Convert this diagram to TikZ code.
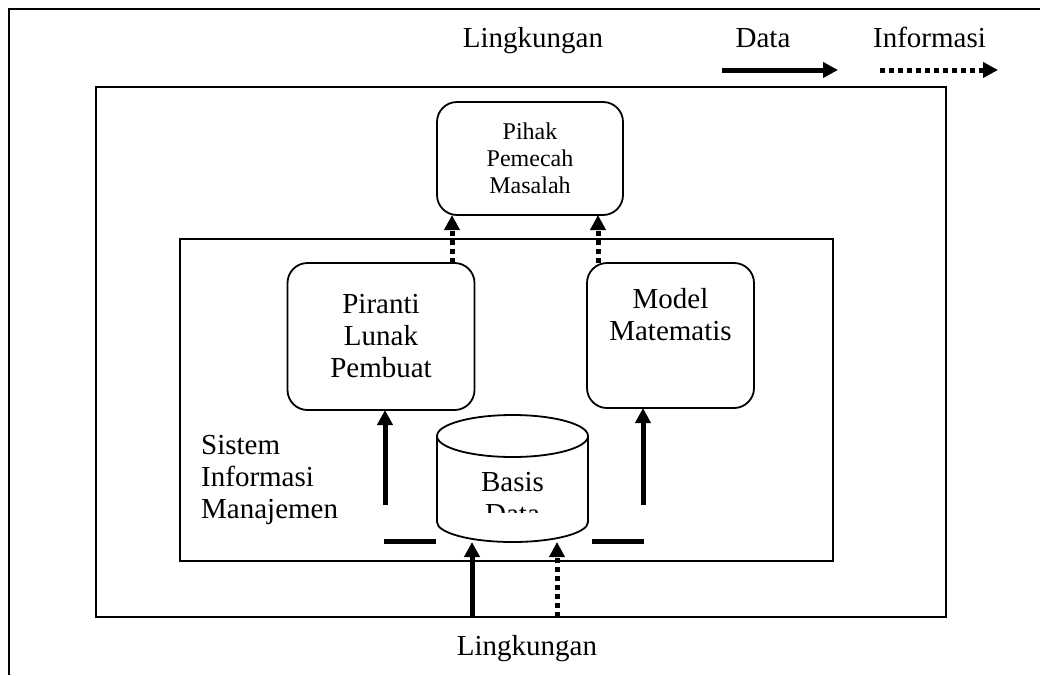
\documentclass[tikz,border=0pt]{standalone}
\usepackage{fontspec}
\setmainfont{Liberation Serif}
\usetikzlibrary{arrows.meta}

\begin{document}
\begin{tikzpicture}[x=1pt,y=-1pt,
  procbox/.style={draw,line width=1.8pt,rounded corners=20pt,align=center,inner sep=0pt,outer sep=0pt,font=\fontsize{29}{32}\selectfont},
  labeltext/.style={inner sep=0pt,font=\fontsize{29}{32}\selectfont},
  dataflow/.style={line width=5pt,-{Triangle[length=15pt,width=15pt]}},
  infoflow/.style={line width=5pt,dash pattern=on 5pt off 4pt,-{Triangle[length=15pt,width=15pt]}}]
\useasboundingbox (0,0) rectangle (1040,675);

% Frames
\draw[line width=1.8pt] (9,675) -- (9,9) -- (1040,9);
\draw[line width=1.8pt] (96,87) rectangle (946,617);
\draw[line width=1.8pt] (180,239) rectangle (833,561);

% Legend
\node[labeltext,anchor=base] (envtop) at (533,47) {Lingkungan};
\node[labeltext,anchor=base] (legdata) at (763,47) {Data};
\node[labeltext,anchor=base] (leginfo) at (929.5,47) {Informasi};
\coordinate (dataA) at (722,70);
\coordinate (dataB) at (838,70);
\coordinate (infoA) at (880,70);
\coordinate (infoB) at (998,70);
\draw[dataflow] (dataA) -- (dataB);
\draw[infoflow] (infoA) -- (infoB);

% Boxes
\node[procbox,minimum width=186pt,minimum height=113pt,font=\fontsize{24}{27}\selectfont] (pihak) at (530,158.5) {Pihak\\Pemecah\\Masalah};
\node[procbox,minimum width=187pt,minimum height=147pt] (piranti) at (381,336.5) {Piranti\\Lunak\\Pembuat};
\node[procbox,minimum width=167pt,minimum height=145pt] (model) at (670.5,335.5) {Model\\Matematis\\\strut};
\node[labeltext,align=left,anchor=west] (sim) at (201,480) {Sistem\\Informasi\\Manajemen};

% Database
\coordinate (dbtop) at (512.5,436);
\coordinate (dbbot) at (512.5,542);
\draw[line width=1.8pt] (437,436) -- (437,522) arc[start angle=180,end angle=0,x radius=75.5,y radius=20] -- (588,436);
\draw[line width=1.8pt] (dbtop) ellipse[x radius=75.5,y radius=21];
\begin{scope}
\clip (437,458) rectangle (588,512);
\node[labeltext,align=center] (dbtext) at (512.5,498) {Basis\\Data};
\end{scope}

% Data flows
\coordinate (pirIn) at (385,505);
\coordinate (modIn) at (643,505);
\draw[dataflow] (pirIn) -- (pirIn |- piranti.south);
\draw[dataflow] (modIn) -- (modIn |- model.south);
\draw[line width=5pt] (384,541) -- (436,541);
\draw[line width=5pt] (592,541) -- (644,541);
\coordinate (envData) at (472,617);
\coordinate (envInfo) at (557,617);
\draw[dataflow] (envData) -- (envData |- dbbot);
\draw[infoflow] (envInfo) -- (envInfo |- dbbot);

% Information flows
\draw[infoflow] (piranti.north -| 452,0) -- (pihak.south -| 452,0);
\draw[infoflow] (model.north -| 598,0) -- (pihak.south -| 598,0);

\node[labeltext,anchor=base] (envbot) at (527,655) {Lingkungan};
\end{tikzpicture}
\end{document}
